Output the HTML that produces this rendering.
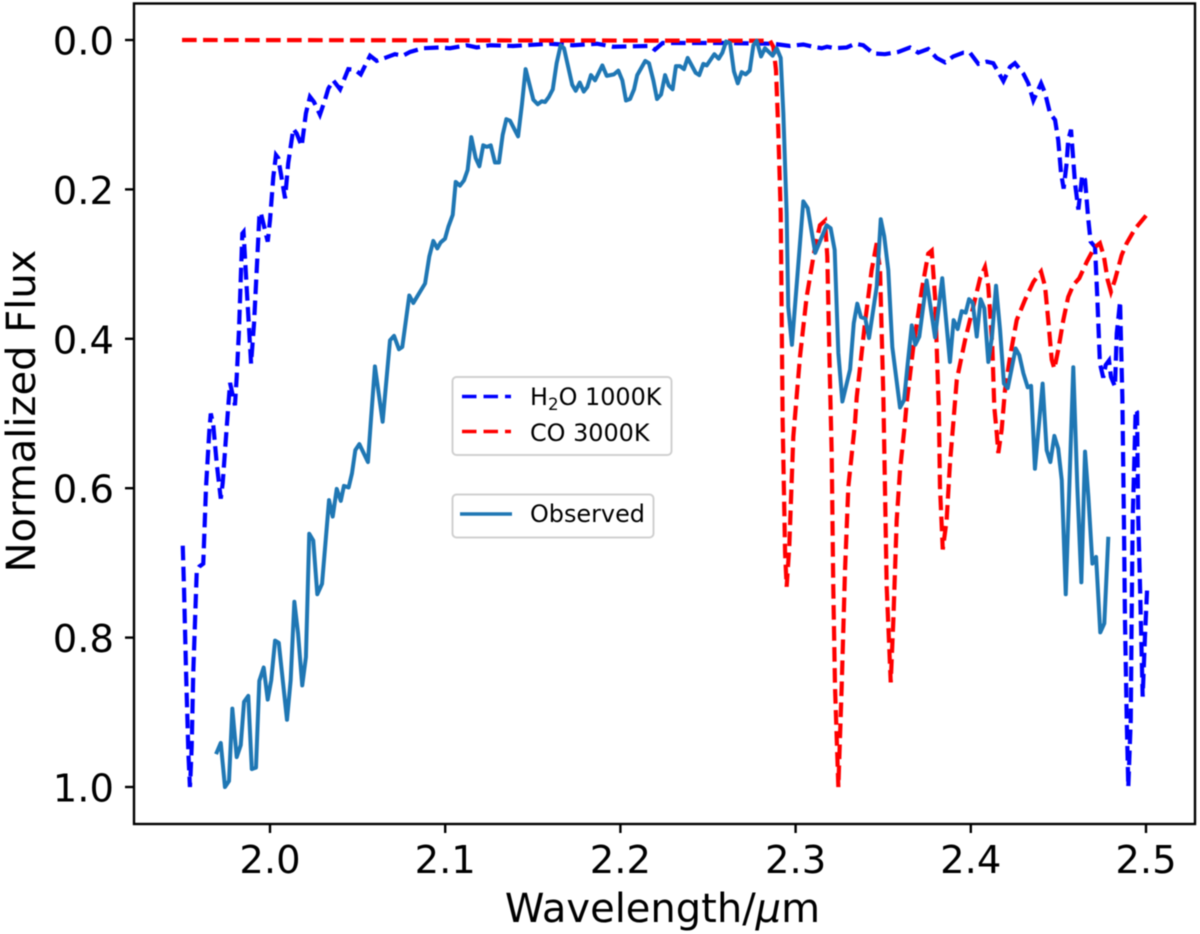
<!DOCTYPE html>
<html lang="en">
<head>
<meta charset="utf-8">
<title>Normalized Flux vs Wavelength</title>
<style>
html,body{margin:0;padding:0;background:#fff;width:1200px;height:934px;overflow:hidden}
svg{display:block;filter:blur(0.5px)}
text{font-family:"DejaVu Sans","Liberation Sans",sans-serif;fill:#000}
</style>
</head>
<body>
<svg id="chart" xmlns="http://www.w3.org/2000/svg" width="1200" height="934" viewBox="0 0 1200 934">
  <rect x="0" y="0" width="1200" height="934" fill="#fff"/>
  <g id="series-layer"></g>
  <rect x="134" y="3.5" width="1061" height="820.5" fill="none" stroke="#000" stroke-width="2.4"/>
  <g id="ticks-layer"></g>
  <text transform="translate(35,411) rotate(-90)" text-anchor="middle" font-size="40">Normalized Flux</text>
  <text x="662.5" y="922" text-anchor="middle" font-size="40">Wavelength/<tspan font-style="italic">μ</tspan>m</text>
  <g>
    <rect x="452.5" y="377" width="219" height="78" rx="4" fill="#fff" stroke="#d0d0d0" stroke-width="2"/>
    <line x1="462" y1="396.5" x2="511" y2="396.5" stroke="#0000ff" stroke-width="3.6" stroke-dasharray="14.5,7"/>
    <text x="530" y="405" font-size="23.9">H<tspan font-size="16.7" dy="5">2</tspan><tspan dy="-5">O 1000K</tspan></text>
    <line x1="462" y1="431.5" x2="511" y2="431.5" stroke="#ff0000" stroke-width="3.6" stroke-dasharray="14.5,7"/>
    <text x="530" y="441" font-size="23.9">CO 3000K</text>
  </g>
  <g>
    <rect x="452.5" y="494.5" width="201" height="43" rx="4" fill="#fff" stroke="#d0d0d0" stroke-width="2"/>
    <line x1="460" y1="514" x2="512" y2="514" stroke="#1f77b4" stroke-width="3.6"/>
    <text x="530" y="522" font-size="23.9">Observed</text>
  </g>
</svg>
<script>
const xTickValues = [2.0, 2.1, 2.2, 2.3, 2.4, 2.5];
const xTickLabels = ["2.0", "2.1", "2.2", "2.3", "2.4", "2.5"];
const yTickValues = [0.0, 0.2, 0.4, 0.6, 0.8, 1.0];
const yTickLabels = ["0.0", "0.2", "0.4", "0.6", "0.8", "1.0"];

const waveObserved = [1.9692,1.9719,1.9743,1.9766,1.9785,1.9810,1.9833,1.9852,1.9876,1.9896,1.9920,1.9939,1.9964,1.9987,2.0007,2.0029,2.0050,2.0097,2.0118,2.0139,2.0160,2.0184,2.0205,2.0224,2.0247,2.0270,2.0297,2.0337,2.0358,2.0381,2.0404,2.0422,2.0449,2.0468,2.0487,2.0510,2.0559,2.0576,2.0599,2.0643,2.0685,2.0708,2.0736,2.0755,2.0795,2.0818,2.0885,2.0909,2.0932,2.0955,2.0974,2.0999,2.1018,2.1043,2.1060,2.1084,2.1107,2.1128,2.1149,2.1174,2.1195,2.1217,2.1237,2.1260,2.1284,2.1307,2.1328,2.1349,2.1370,2.1416,2.1438,2.1459,2.1503,2.1528,2.1551,2.1570,2.1592,2.1614,2.1636,2.1659,2.1678,2.1725,2.1745,2.1768,2.1791,2.1811,2.1832,2.1855,2.1897,2.1922,2.1963,2.1988,2.2011,2.2032,2.2055,2.2078,2.2096,2.2142,2.2163,2.2188,2.2209,2.2232,2.2255,2.2276,2.2298,2.2317,2.2340,2.2363,2.2384,2.2430,2.2450,2.2473,2.2493,2.2536,2.2561,2.2582,2.2603,2.2626,2.2648,2.2670,2.2692,2.2715,2.2738,2.2759,2.2778,2.2803,2.2825,2.2869,2.2892,2.2915,2.2930,2.2949,2.2958,2.2979,2.3044,2.3069,2.3112,2.3177,2.3200,2.3223,2.3244,2.3267,2.3311,2.3332,2.3352,2.3373,2.3398,2.3419,2.3463,2.3486,2.3506,2.3529,2.3552,2.3596,2.3619,2.3640,2.3663,2.3683,2.3706,2.3748,2.3796,2.3837,2.3881,2.3902,2.3925,2.3948,2.3971,2.3990,2.4011,2.4034,2.4056,2.4077,2.4100,2.4121,2.4144,2.4167,2.4189,2.4211,2.4256,2.4277,2.4300,2.4325,2.4344,2.4366,2.4410,2.4433,2.4454,2.4477,2.4499,2.4519,2.4542,2.4585,2.4608,2.4631,2.4652,2.4671,2.4694,2.4715,2.4739,2.4762,2.4785];
const fluxObserved = [.956,.941,1.000,.992,.895,.960,.944,.886,.878,.976,.974,.858,.840,.883,.857,.804,.807,.910,.857,.752,.794,.864,.826,.661,.670,.742,.728,.616,.638,.601,.617,.597,.599,.580,.549,.541,.565,.509,.437,.511,.402,.396,.414,.411,.342,.352,.326,.290,.269,.279,.271,.266,.250,.234,.190,.195,.188,.174,.130,.158,.169,.141,.143,.141,.164,.164,.127,.106,.108,.129,.086,.039,.080,.086,.082,.083,.076,.066,.031,.007,.011,.060,.068,.057,.069,.063,.047,.054,.034,.048,.046,.041,.054,.081,.079,.066,.047,.028,.031,.054,.079,.073,.047,.061,.066,.035,.035,.039,.024,.044,.047,.032,.034,.019,.025,.017,.002,.004,.042,.058,.043,.046,.041,.007,.001,.022,.011,.021,.011,.024,.098,.232,.357,.408,.216,.225,.285,.248,.252,.281,.419,.484,.441,.379,.353,.371,.373,.399,.330,.240,.263,.308,.411,.492,.482,.433,.382,.408,.397,.322,.398,.319,.431,.375,.387,.363,.365,.347,.352,.397,.347,.359,.431,.397,.329,.388,.460,.466,.413,.422,.446,.465,.463,.574,.460,.549,.565,.530,.547,.589,.742,.438,.598,.726,.551,.611,.701,.692,.793,.781,.665];

const waveH2O = [1.9502,1.9509,1.9521,1.9534,1.9543,1.9547,1.9553,1.9562,1.9582,1.9596,1.9619,1.9635,1.9654,1.9662,1.9676,1.9696,1.9719,1.9730,1.9753,1.9772,1.9800,1.9810,1.9823,1.9842,1.9849,1.9870,1.9892,1.9909,1.9928,1.9939,1.9947,1.9971,1.9987,2.0000,2.0019,2.0034,2.0047,2.0086,2.0104,2.0133,2.0152,2.0181,2.0205,2.0228,2.0251,2.0285,2.0314,2.0333,2.0361,2.0400,2.0447,2.0485,2.0518,2.0571,2.0609,2.0656,2.0713,2.0759,2.0799,2.0873,2.0970,2.1027,2.1123,2.1180,2.1256,2.1387,2.1598,2.1729,2.1866,2.1958,2.2169,2.2197,2.2241,2.2323,2.2586,2.2871,2.2968,2.3044,2.3099,2.3149,2.3179,2.3225,2.3292,2.3339,2.3386,2.3444,2.3510,2.3586,2.3653,2.3700,2.3757,2.3805,2.3853,2.3900,2.3957,2.3995,2.4043,2.4091,2.4128,2.4186,2.4224,2.4252,2.4300,2.4328,2.4357,2.4401,2.4424,2.4452,2.4481,2.4499,2.4515,2.4530,2.4547,2.4556,2.4572,2.4595,2.4614,2.4636,2.4652,2.4671,2.4684,2.4709,2.4722,2.4737,2.4756,2.4770,2.4789,2.4800,2.4823,2.4833,2.4852,2.4865,2.4874,2.4880,2.4890,2.4899,2.4913,2.4918,2.4924,2.4937,2.4941,2.4949,2.4956,2.4966,2.4981,2.4994,2.5006];
const fluxH2O = [.677,.732,.847,.954,1.000,.981,.946,.847,.710,.705,.701,.598,.522,.500,.515,.567,.614,.593,.518,.459,.489,.451,.388,.259,.257,.344,.433,.379,.290,.237,.231,.254,.270,.241,.183,.154,.158,.212,.165,.119,.125,.142,.098,.076,.083,.100,.080,.065,.054,.066,.039,.040,.046,.021,.028,.024,.019,.021,.016,.011,.010,.011,.007,.010,.007,.008,.005,.007,.005,.009,.008,.013,.004,.004,.004,.005,.008,.006,.009,.011,.009,.011,.010,.005,.007,.018,.019,.016,.010,.017,.012,.024,.030,.022,.017,.017,.032,.029,.031,.055,.036,.031,.045,.058,.081,.058,.071,.098,.107,.134,.178,.199,.165,.134,.120,.192,.227,.181,.187,.241,.270,.277,.344,.433,.452,.435,.429,.451,.464,.393,.350,.478,.643,.776,.910,1.000,.910,.776,.643,.531,.495,.498,.643,.732,.879,.799,.737];

const waveCO = [1.9498,2.2854,2.2873,2.2888,2.2901,2.2915,2.2926,2.2940,2.2949,2.2964,2.2987,2.3025,2.3063,2.3111,2.3139,2.3168,2.3181,2.3196,2.3206,2.3215,2.3225,2.3244,2.3263,2.3282,2.3301,2.3339,2.3349,2.3396,2.3434,2.3463,2.3482,2.3501,2.3510,2.3520,2.3543,2.3558,2.3577,2.3596,2.3624,2.3634,2.3672,2.3720,2.3757,2.3777,2.3796,2.3818,2.3824,2.3840,2.3862,2.3881,2.3900,2.3920,2.3967,2.4014,2.4053,2.4081,2.4100,2.4123,2.4134,2.4148,2.4157,2.4176,2.4195,2.4224,2.4262,2.4309,2.4357,2.4401,2.4424,2.4442,2.4462,2.4477,2.4499,2.4528,2.4556,2.4585,2.4619,2.4662,2.4705,2.4737,2.4760,2.4781,2.4800,2.4823,2.4861,2.4890,2.4937,2.5004];
const fluxCO = [0,.001,.009,.040,.120,.232,.509,.687,.732,.678,.531,.424,.344,.277,.248,.242,.290,.455,.553,.732,.866,1.000,.866,.710,.598,.513,.478,.379,.308,.272,.308,.478,.598,.732,.860,.776,.643,.576,.513,.486,.411,.335,.286,.282,.344,.499,.598,.682,.643,.567,.513,.455,.402,.357,.319,.304,.330,.411,.491,.526,.553,.522,.469,.424,.375,.348,.324,.310,.330,.375,.428,.440,.415,.375,.344,.328,.319,.297,.278,.272,.290,.321,.337,.321,.288,.272,.253,.234];

const SVG_NS = "http://www.w3.org/2000/svg";

function xScale(v) {
  return 270 + (v - 2.0) * 1752;
}
function yScale(v) {
  return 40 + v * 747;
}
function make(tag, attrs) {
  const el = document.createElementNS(SVG_NS, tag);
  for (const k in attrs) el.setAttribute(k, attrs[k]);
  return el;
}
function linePath(xs, ys) {
  return xs.map(function (x, i) {
    return (i ? "L" : "M") + xScale(x).toFixed(2) + " " + yScale(ys[i]).toFixed(2);
  }).join(" ");
}

const seriesLayer = document.getElementById("series-layer");
const ticksLayer = document.getElementById("ticks-layer");

const h2oLine = make("path", {d: linePath(waveH2O, fluxH2O), fill: "none", stroke: "#0000ff", "stroke-width": 4.2, "stroke-dasharray": "14.6,6.4"});


seriesLayer.appendChild(h2oLine);

const coLine = make("path", {d: linePath(waveCO, fluxCO), fill: "none", stroke: "#ff0000", "stroke-width": 4.2, "stroke-dasharray": "14.6,6.4"});


seriesLayer.appendChild(coLine);

const obsLine = make("path", {d: linePath(waveObserved, fluxObserved), fill: "none", stroke: "#1f77b4", "stroke-width": 4, "stroke-linejoin": "round", "stroke-linecap": "butt"});


seriesLayer.appendChild(obsLine);

xTickValues.forEach(function (v, i) {
  const px = xScale(v);
  const tick = make("line", {x1: px, y1: 824, x2: px, y2: 833, stroke: "#000", "stroke-width": 2.4});
  
  
  ticksLayer.appendChild(tick);
  const label = make("text", {x: px, y: 873, "text-anchor": "middle", "font-size": 38.5});
  
  
  label.textContent = xTickLabels[i];
  ticksLayer.appendChild(label);
});

yTickValues.forEach(function (v, i) {
  const py = yScale(v);
  const tick = make("line", {x1: 125, y1: py, x2: 134, y2: py, stroke: "#000", "stroke-width": 2.4});
  
  
  ticksLayer.appendChild(tick);
  const label = make("text", {x: 114, y: py + 14.5, "text-anchor": "end", "font-size": 38.5});
  
  
  label.textContent = yTickLabels[i];
  ticksLayer.appendChild(label);
});
</script>
</body>
</html>
